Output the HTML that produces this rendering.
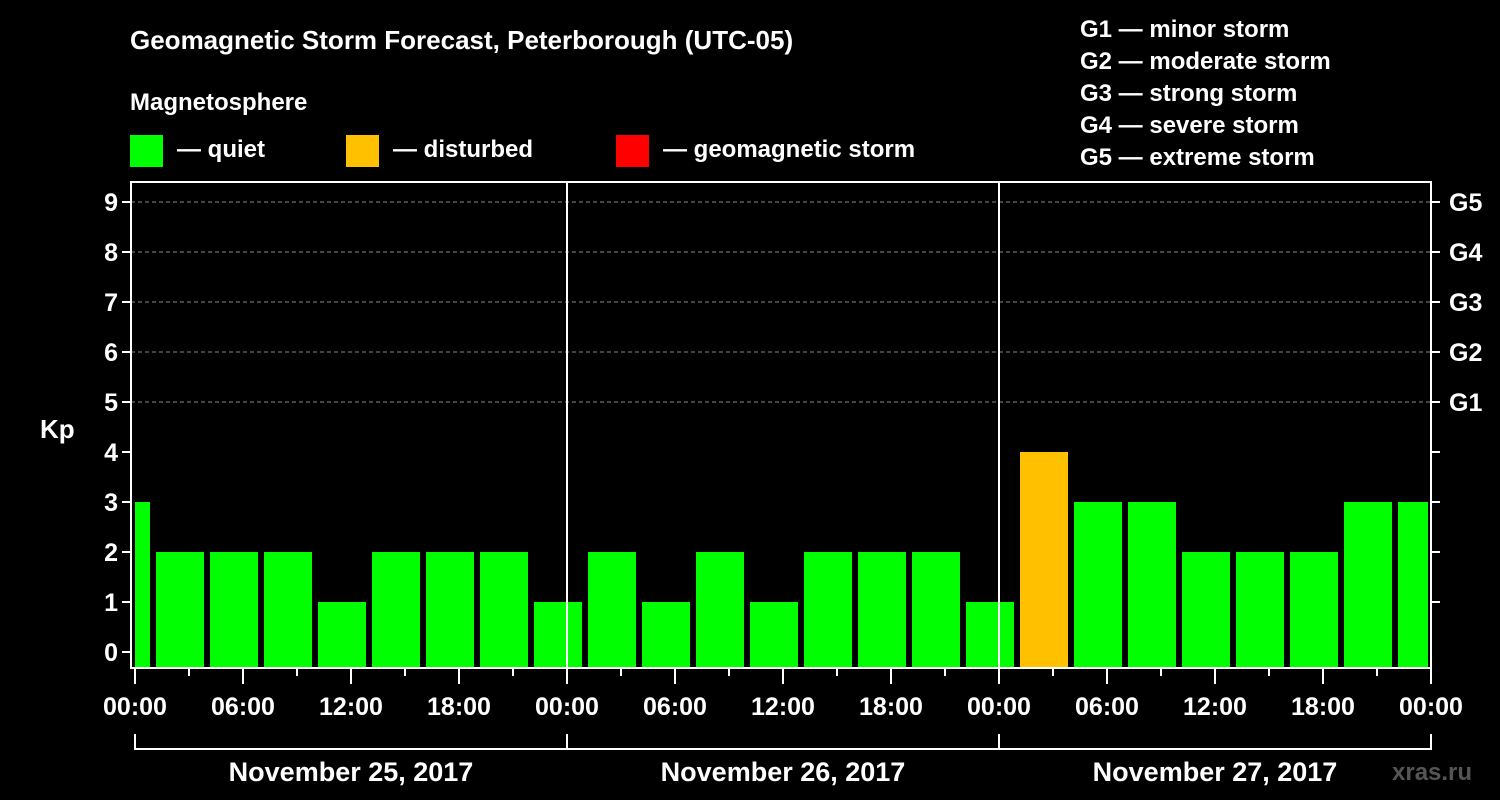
<!DOCTYPE html>
<html><head><meta charset="utf-8"><style>
html,body{margin:0;padding:0;background:#000;}
svg{display:block;font-family:"Liberation Sans",Arial,sans-serif;font-weight:bold;}
</style></head><body>
<svg id="chart" width="1500" height="800" viewBox="0 0 1500 800">
<rect width="1500" height="800" fill="#000"/>
<text x="130" y="49" fill="#fff" font-size="26">Geomagnetic Storm Forecast, Peterborough (UTC-05)</text>
<text x="130" y="110" fill="#fff" font-size="24">Magnetosphere</text>
<g><rect x="130" y="135" width="33" height="32" fill="#00ff00"/><text x="177" y="157" fill="#fff" font-size="24">— quiet</text></g>
<g><rect x="346" y="135" width="33" height="32" fill="#ffc000"/><text x="393" y="157" fill="#fff" font-size="24">— disturbed</text></g>
<g><rect x="616" y="135" width="33" height="32" fill="#ff0000"/><text x="663" y="157" fill="#fff" font-size="24">— geomagnetic storm</text></g>
<g fill="#fff" font-size="24">
<text x="1080" y="37">G1 — minor storm</text>
<text x="1080" y="69">G2 — moderate storm</text>
<text x="1080" y="101">G3 — strong storm</text>
<text x="1080" y="133">G4 — severe storm</text>
<text x="1080" y="165">G5 — extreme storm</text>
</g>
<text x="40" y="438" fill="#fff" font-size="26">Kp</text>
<text x="1392" y="780" fill="#555" font-size="24">xras.ru</text>
<g id="plot"></g>
</svg>
<script>
const kpValues=[3,2,2,2,1,2,2,2,1,2,1,2,1,2,2,2,1,4,3,3,2,2,2,3,3];
const hourTickLabels=["00:00","06:00","12:00","18:00","00:00","06:00","12:00","18:00","00:00","06:00","12:00","18:00","00:00"];
const dayLabels=["November 25, 2017","November 26, 2017","November 27, 2017"];
const gLabels=["G1","G2","G3","G4","G5"];
const NS="http://www.w3.org/2000/svg";
const g=document.getElementById('plot');
const X0=135,PX_H=18,Y0=652,PX_K=50,TOP=182,BOT=668,L=131,R=1431;
const xh=h=>X0+h*PX_H, yk=k=>Y0-k*PX_K;
function mk(t,a,p){const e=document.createElementNS(NS,t);for(const k in a)e.setAttribute(k,a[k]);(p||g).appendChild(e);return e;}
// grid
for(let k=5;k<=9;k++){const l=mk('line',{x1:L,x2:R,y1:yk(k),y2:yk(k),stroke:'#888','stroke-dasharray':'4,3','stroke-width':1});

}
// bars: first slot partial (-1h..2h), then 3h slots from 1h offset
kpValues.forEach((v,i)=>{
 let s=i===0?0:1+3*(i-1), e=Math.min(1+3*i,72);
 let x1=xh(s)+(i===0?0:3), x2=xh(e)-3;
 const c=v>=5?'#ff0000':(v>=4?'#ffc000':'#00ff00');
 const r=mk('rect',{x:x1,y:yk(v),width:x2-x1,height:BOT-1-yk(v),fill:c});
 
 
});
// day separators
[24,48].forEach(h=>{const l=mk('line',{x1:xh(h),x2:xh(h),y1:TOP,y2:BOT,stroke:'#fff','stroke-width':2});

});
// frame
const fr=mk('rect',{x:L,y:TOP,width:R-L,height:BOT-TOP,fill:'none',stroke:'#fff','stroke-width':2});


// y ticks
for(let k=0;k<=9;k++){
 mk('line',{x1:L-9,x2:L,y1:yk(k),y2:yk(k),stroke:'#fff','stroke-width':2});
 const t=mk('text',{x:L-13,y:yk(k)+9,fill:'#fff','font-size':25,'text-anchor':'end'});t.textContent=k;
 
 
 if(k>=1){mk('line',{x1:R,x2:R+9,y1:yk(k),y2:yk(k),stroke:'#fff','stroke-width':2});}
}
gLabels.forEach((s,i)=>{const t=mk('text',{x:R+18,y:yk(5+i)+9,fill:'#fff','font-size':25});t.textContent=s;
 
 });
// x ticks
for(let h=0;h<=72;h+=3){const maj=h%6===0;mk('line',{x1:xh(h),x2:xh(h),y1:BOT,y2:BOT+(maj?16:8),stroke:'#fff','stroke-width':2});}
hourTickLabels.forEach((s,i)=>{const t=mk('text',{x:xh(i*6),y:715,fill:'#fff','font-size':25,'text-anchor':'middle'});t.textContent=s;
 
 });
// day bracket
mk('line',{x1:xh(0),x2:xh(72),y1:749,y2:749,stroke:'#fff','stroke-width':2});
for(let d=0;d<=3;d++)mk('line',{x1:xh(d*24),x2:xh(d*24),y1:734,y2:750,stroke:'#fff','stroke-width':2});
dayLabels.forEach((s,i)=>{const t=mk('text',{x:xh(i*24+12),y:781,fill:'#fff','font-size':27,'text-anchor':'middle'});t.textContent=s;
 
 });
</script>
</body></html>
